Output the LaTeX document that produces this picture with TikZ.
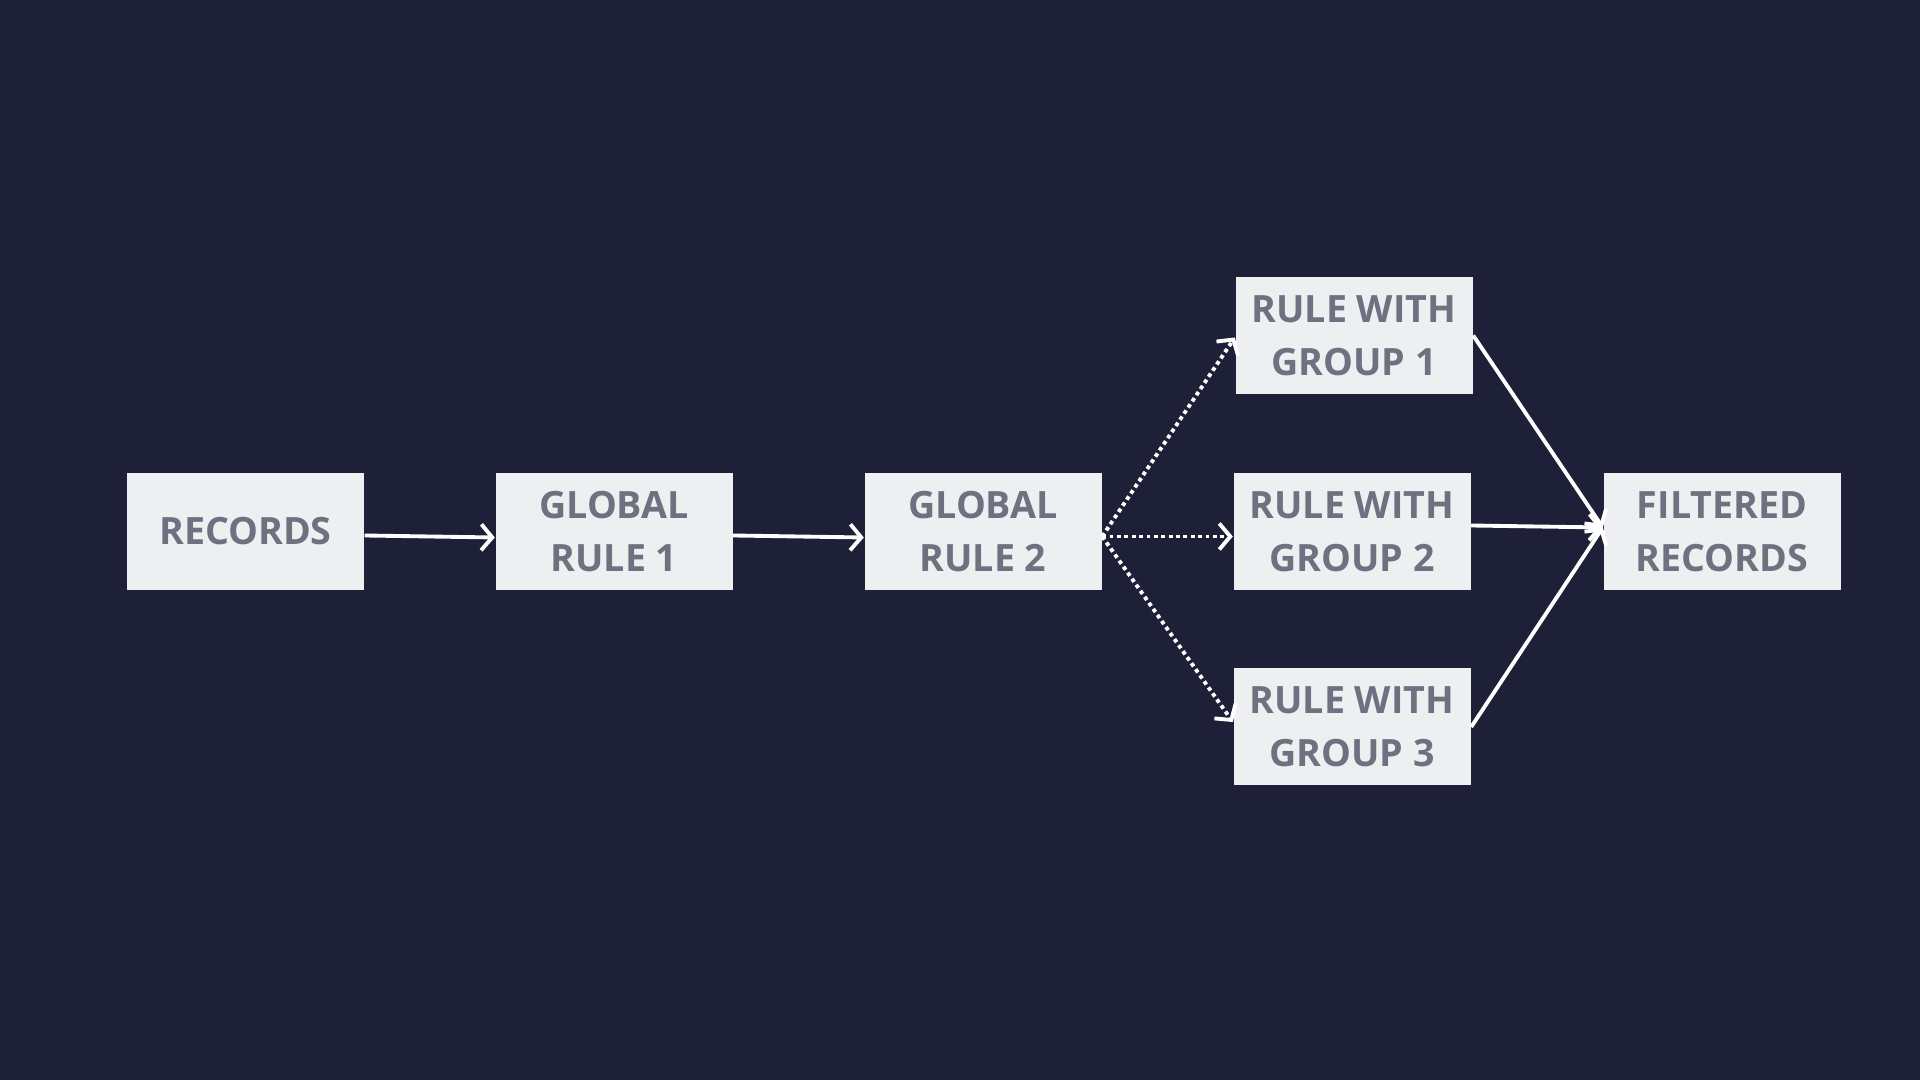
\documentclass[tikz,border=0pt]{standalone}
\usepackage{fontspec}
\setmainfont{Open Sans}
\usetikzlibrary{arrows.meta}
\definecolor{bgnavy}{HTML}{1E2038}
\definecolor{boxgrey}{HTML}{EEEFF1}
\definecolor{textgrey}{HTML}{6E7180}
\tikzset{
	rulebox/.style={fill=boxgrey, text=textgrey, minimum width=2.37cm, minimum height=1.17cm, inner sep=0pt, align=center, font=\fontsize{10.7}{15}\selectfont\bfseries},
	flow/.style={white, line width=1.1pt, -{Straight Barb[length=1.1mm,width=2.6mm]}},
	branch/.style={flow, dash pattern=on 1.1pt off 1pt},
}
\begin{document}
\begin{tikzpicture}
			%%%%% START %%%%%
			
			\fill[bgnavy] (0, 0) rectangle (19.2, 10.8);
			\useasboundingbox (0, 0) rectangle (19.2, 10.8);
			
			\node[rulebox] (records) at (2.455, 5.485) {RECORDS};
			\node[rulebox] (global1) at (6.14, 5.485) {GLOBAL\\RULE 1};
			\node[rulebox] (global2) at (9.83, 5.485) {GLOBAL\\RULE 2};
			
			\node[rulebox] (group1) at (13.54, 7.445) {RULE WITH\\GROUP 1};
			\node[rulebox] (group2) at (13.52, 5.485) {RULE WITH\\GROUP 2};
			\node[rulebox] (group3) at (13.52, 3.53) {RULE WITH\\GROUP 3};
			
			\node[rulebox] (filtered) at (17.22, 5.485) {FILTERED\\RECORDS};
			
			\draw[flow] ([yshift=-0.04cm]records.east) -- ([yshift=-0.06cm]global1.west);
			\draw[flow] ([yshift=-0.04cm]global1.east) -- ([yshift=-0.06cm]global2.west);
			
			\draw[branch] ([yshift=-0.05cm]global2.east) -- ([yshift=-0.02cm]group1.west);
			\draw[branch] ([yshift=-0.05cm]global2.east) -- ([yshift=-0.05cm]group2.west);
			\draw[branch] ([yshift=-0.05cm]global2.east) -- ([yshift=0.05cm]group3.west);
			
			\draw[flow] (group1.east) -- ([yshift=0.04cm]filtered.west);
			\draw[flow] ([yshift=0.06cm]group2.east) -- ([yshift=0.04cm]filtered.west);
			\draw[flow] (group3.east) -- ([yshift=0.04cm]filtered.west);
			
			%%%%% END %%%%%
\end{tikzpicture}
\end{document}
